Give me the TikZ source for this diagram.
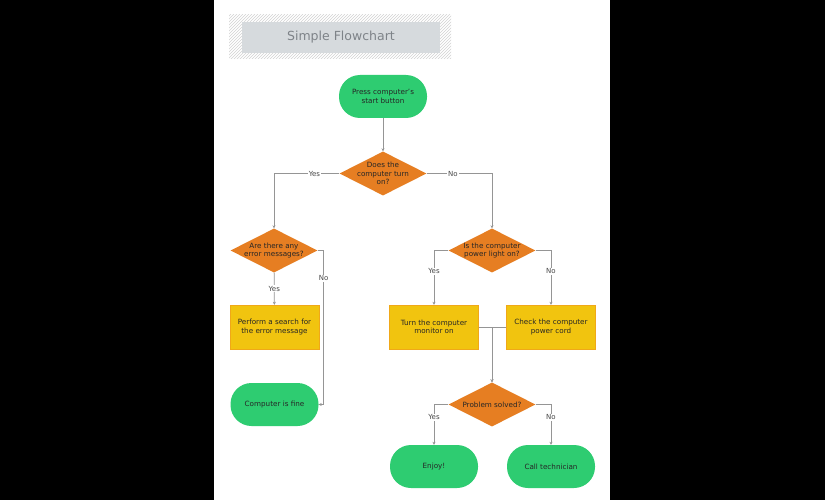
\documentclass[tikz,border=0pt]{standalone}
\usepackage{fontspec}
\setmainfont{DejaVu Sans}
\usepackage{tikz}
\usetikzlibrary{shapes.geometric,patterns,arrows.meta}

\definecolor{emerald}{HTML}{2ECC71}
\definecolor{carrot}{HTML}{E67E22}
\definecolor{sunflower}{HTML}{F1C40F}
\definecolor{boxedge}{HTML}{F0A818}
\definecolor{titlegray}{HTML}{D6DADD}
\definecolor{titletext}{HTML}{7E8388}
\definecolor{linegray}{HTML}{959595}
\definecolor{textdark}{HTML}{262626}

\tikzset{
    terminal/.style={rectangle, rounded corners=21pt, fill=emerald, minimum width=88pt, minimum height=43pt, align=center, text=textdark, font=\fontsize{7.2}{8.6}\selectfont},
    decision/.style={diamond, aspect=2, fill=carrot, minimum width=87pt, minimum height=44pt, inner sep=-1.6pt, align=center, text=textdark, font=\fontsize{7.2}{8.6}\selectfont},
    process/.style={rectangle, fill=sunflower, draw=boxedge, line width=0.4pt, minimum width=89pt, minimum height=44pt, align=center, text=textdark, font=\fontsize{7.2}{8.6}\selectfont},
    flow/.style={draw=linegray, line width=0.8pt, -{Stealth[length=3pt,width=3pt]}},
    answer/.style={fill=white, inner sep=1pt, text=textdark!85, font=\fontsize{7}{8}\selectfont}
}

\begin{document}
\begin{tikzpicture}[x=1pt, y=-1pt]
    \useasboundingbox (0,0) rectangle (825,500);
    \fill[black] (0,0) rectangle (825,500);
    \fill[white] (214,0) rectangle (610,500);

    % title
    \fill[pattern=north east lines, pattern color=gray!35] (229,15) rectangle (451,59);
    \node[fill=titlegray, minimum width=198pt, minimum height=31pt, text=titletext, font=\fontsize{12.5}{14}\selectfont] (title) at (341,37.5) {Simple Flowchart};

    \node[terminal] (start) at (383,96.5) {Press computer's\\start button};
    \node[decision, inner sep=-3.2pt] (d1) at (383,173.5) {Does the\\computer turn\\on?};

    % left branch
    \node[decision] (d2) at (274,250.5) {Are there any\\error messages?};
    \node[process] (search) at (274.5,327) {Perform a search for\\the error message};
    \node[terminal] (fine) at (274.5,404.5) {Computer is fine};

    % right branch
    \node[decision] (d3) at (492,250.5) {Is the computer\\power light on?};
    \node[process] (monitor) at (434,327) {Turn the computer\\monitor on};
    \node[process] (cord) at (551,327) {Check the computer\\power cord};
    \node[decision] (d4) at (492,404.5) {Problem solved?};
    \node[terminal] (enjoy) at (434,466.5) {Enjoy!};
    \node[terminal] (tech) at (551,466.5) {Call technician};

    \draw[flow] (start) -- (d1);
    \draw[flow] (d1.west) -| node[answer, pos=0.19] (y1) {Yes} (d2.north);
    \draw[flow] (d1.east) -| node[answer, pos=0.2] (n1) {No} (d3.north);
    \draw[flow] (d2) -- node[answer] (y2) {Yes} (search);
    \draw[flow] (d2.east) -- ++(6,0) |- node[answer, pos=0.09] (n2) {No} (fine.east);
    \draw[flow] (d3.west) -| node[answer, pos=0.69] (y3) {Yes} (monitor.north);
    \draw[flow] (d3.east) -| node[answer, pos=0.69] (n3) {No} (cord.north);
    \draw[flow] (monitor.east) -| (d4.north);
    \draw[flow] (cord.west) -| (d4.north);
    \draw[flow] (d4.west) -| node[answer, pos=0.66] (y4) {Yes} (enjoy.north);
    \draw[flow] (d4.east) -| node[answer, pos=0.66] (n4) {No} (tech.north);
\end{tikzpicture}
\end{document}
